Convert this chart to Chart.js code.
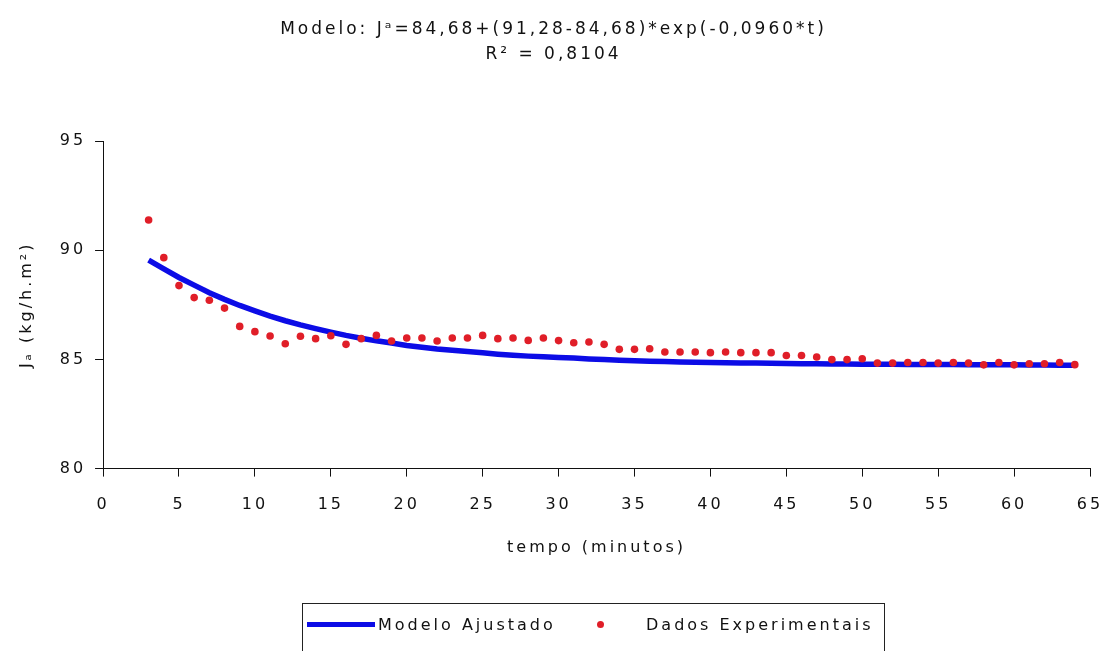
<!DOCTYPE html>
<html lang="pt">
<head>
<meta charset="utf-8">
<title>Modelo ajustado - Ja</title>
<script src="https://cdn.jsdelivr.net/npm/chart.js@4.4.1/dist/chart.umd.min.js"></script>
<style>
    html, body { margin: 0; padding: 0; background: #fff; }
    #wrap { position: relative; width: 1107px; height: 651px; overflow: hidden; }
    #grafico { display: block; }
    #legenda {
        position: absolute; left: 302px; top: 603px; width: 581px; height: 60px;
        border: 1.5px solid #222; font: 16px "DejaVu Sans", sans-serif;
        letter-spacing: 3px; color: #111;
    }
    #legenda .linha { position: absolute; left: 4px; top: 18px; width: 68px; height: 5px; }
    #legenda .ponto { position: absolute; left: 294px; top: 17px; width: 7px; height: 7px; border-radius: 50%; }
    #legenda .txt { position: absolute; top: 11px; line-height: 19px; white-space: nowrap; }
</style>
</head>
<body>
<div id="wrap">
    <canvas id="grafico" width="1107" height="651"></canvas>
    <div id="legenda"></div>
</div>
<script>
// tempo (minutos)
const minutos = [3, 4, 5, 6, 7, 8, 9, 10, 11, 12, 13, 14, 15, 16, 17, 18, 19, 20, 21, 22, 23, 24,
    25, 26, 27, 28, 29, 30, 31, 32, 33, 34, 35, 36, 37, 38, 39, 40, 41, 42, 43, 44, 45, 46,
    47, 48, 49, 50, 51, 52, 53, 54, 55, 56, 57, 58, 59, 60, 61, 62, 63, 64];

// Ja medido (kg/h.m2)
const dadosExperimentais = [91.38, 89.66, 88.38, 87.83, 87.71, 87.35, 86.51, 86.27, 86.07, 85.72,
    86.06, 85.95, 86.08, 85.69, 85.95, 86.10, 85.84, 85.98, 85.98, 85.84, 85.98, 85.98,
    86.10, 85.95, 85.98, 85.87, 85.98, 85.86, 85.76, 85.80, 85.69, 85.46, 85.46, 85.49,
    85.34, 85.34, 85.34, 85.31, 85.34, 85.31, 85.31, 85.31, 85.18, 85.18, 85.11, 84.99,
    84.99, 85.03, 84.83, 84.83, 84.86, 84.86, 84.83, 84.86, 84.83, 84.75, 84.86, 84.75,
    84.80, 84.80, 84.86, 84.76];

// curva do modelo
const modeloAjustado = [89.55, 89.15, 88.75, 88.40, 88.05, 87.75, 87.47, 87.22, 86.98, 86.77,
    86.58, 86.41, 86.25, 86.10, 85.97, 85.85, 85.75, 85.64, 85.56, 85.48, 85.42, 85.36,
    85.30, 85.24, 85.19, 85.15, 85.12, 85.09, 85.06, 85.02, 84.99, 84.96, 84.94, 84.92,
    84.90, 84.88, 84.87, 84.86, 84.85, 84.84, 84.83, 84.82, 84.81, 84.80, 84.80, 84.79,
    84.79, 84.78, 84.78, 84.78, 84.77, 84.77, 84.77, 84.77, 84.76, 84.76, 84.76, 84.75,
    84.74, 84.74, 84.73, 84.73];

const xTicks = [0, 65, 5];   // min, max, passo
const yTicks = [80, 95, 5];

const titulo = ['Modelo: J\u1D43=84,68+(91,28-84,68)*exp(-0,0960*t)', 'R\u00B2 = 0,8104'];
const tituloX = 'tempo (minutos)';
const tituloY = 'J\u2090 (kg/h.m\u00B2)';

const azul = '#0c0ce6';
const vermelho = '#e01e28';
const texto = '#111';
const fonte = '"DejaVu Sans", sans-serif';

// espaçamento entre letras como no original
const espacamento = {
    id: 'espacamento',
    beforeUpdate(chart) { chart.ctx.letterSpacing = '3px'; },
    beforeDraw(chart) { chart.ctx.letterSpacing = '3px'; }
};

const pares = (ys) => minutos.map((t, i) => ({ x: t, y: ys[i] }));

const grafico = new Chart(document.getElementById('grafico').getContext('2d'), {
    type: 'scatter',
    data: {
        datasets: [
            {
                label: 'Modelo Ajustado',
                data: pares(modeloAjustado),
                showLine: true,
                borderColor: azul,
                backgroundColor: azul,
                borderWidth: 5.5,
                pointRadius: 0,
                tension: 0,
                order: 2
            },
            {
                label: 'Dados Experimentais',
                data: pares(dadosExperimentais),
                showLine: false,
                backgroundColor: vermelho,
                borderColor: vermelho,
                borderWidth: 0,
                pointRadius: 3.8,
                order: 1
            }
        ]
    },
    options: {
        responsive: false,
        animation: false,
        events: [],
        layout: { padding: { left: 0, right: 0, top: 0, bottom: 94 } },
        plugins: {
            legend: { display: false },
            tooltip: { enabled: false },
            title: {
                display: true,
                text: titulo,
                color: texto,
                font: { family: fonte, size: 17, weight: 'normal', lineHeight: 1.5 },
                padding: { top: 16.5, bottom: 73.5 }
            }
        },
        scales: {
            x: {
                type: 'linear',
                min: xTicks[0], max: xTicks[1],
                border: { display: true, color: texto, width: 1 },
                grid: { drawOnChartArea: false, drawTicks: true, tickLength: 8, color: texto },
                ticks: { stepSize: xTicks[2], color: texto, padding: 19, font: { family: fonte, size: 16 } },
                title: {
                    display: true, text: tituloX, color: texto,
                    font: { family: fonte, size: 16 }, padding: { top: 4, bottom: 0 }
                },
                // deixa o "65" encostar na borda direita como no original
                afterFit(scale) { scale.paddingRight = 17; }
            },
            y: {
                type: 'linear',
                min: yTicks[0], max: yTicks[1],
                border: { display: true, color: texto, width: 1 },
                grid: { drawOnChartArea: false, drawTicks: true, tickLength: 8, color: texto },
                ticks: { stepSize: yTicks[2], color: texto, padding: 9, font: { family: fonte, size: 16 } },
                title: {
                    display: true, text: tituloY, color: texto,
                    font: { family: fonte, size: 16 }, padding: { top: 17.5, bottom: 14 }
                }
            }
        }
    },
    plugins: [espacamento]
});

// legenda em HTML, a partir dos datasets
function montarLegenda(chart) {
    const box = document.getElementById('legenda');
    const [modelo, dados] = chart.data.datasets;
    box.innerHTML =
        '<span class="linha" style="background:' + modelo.borderColor + '"></span>' +
        '<span class="txt" style="left:75px">' + modelo.label + '</span>' +
        '<span class="ponto" style="background:' + dados.backgroundColor + '"></span>' +
        '<span class="txt" style="left:343px">' + dados.label + '</span>';
}
montarLegenda(grafico);
</script>
</body>
</html>
